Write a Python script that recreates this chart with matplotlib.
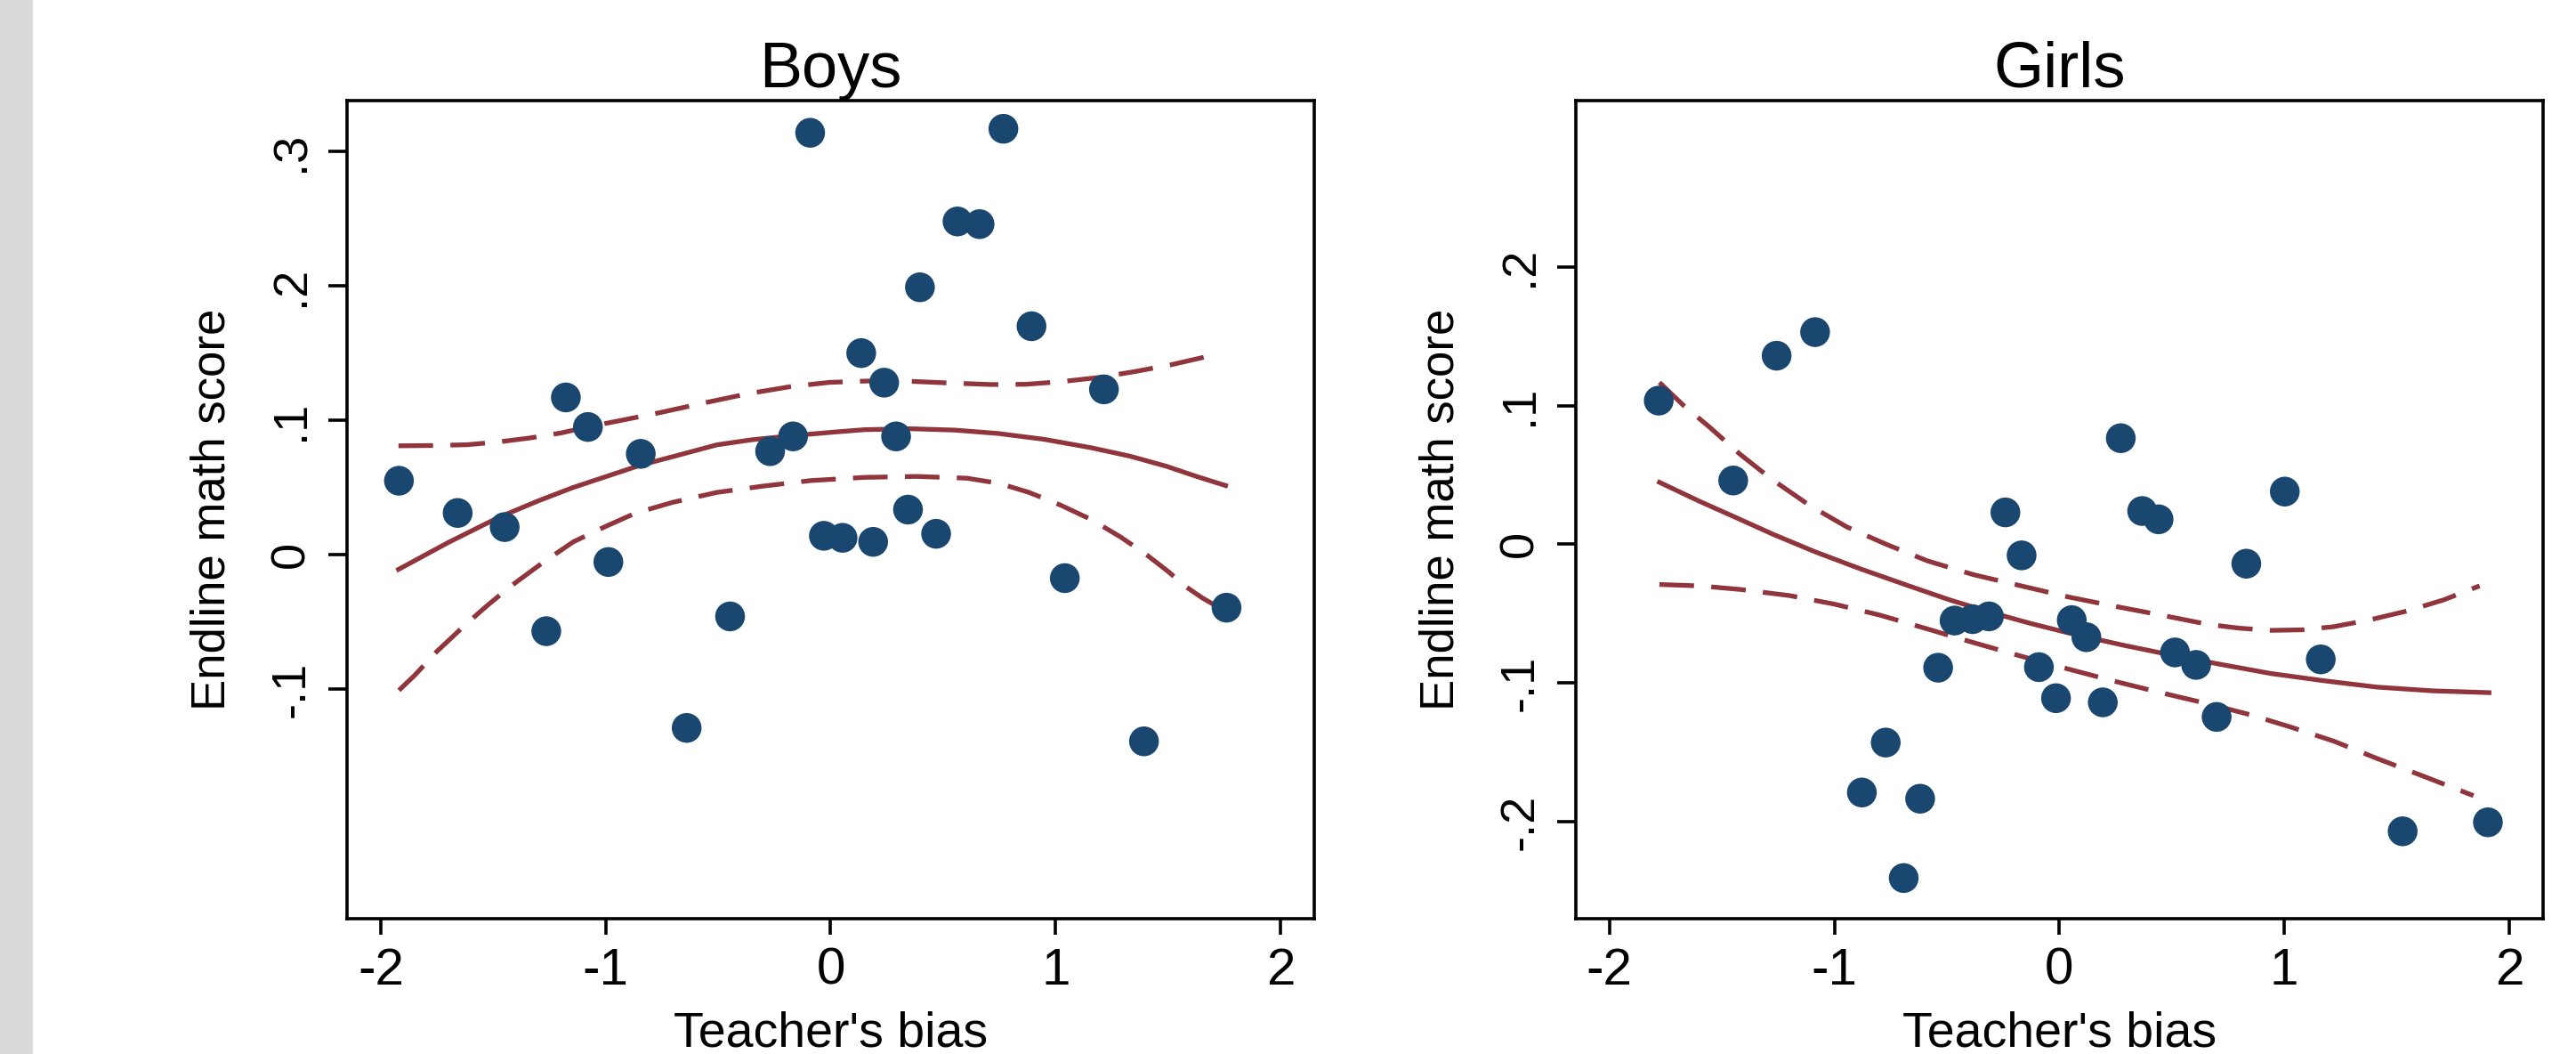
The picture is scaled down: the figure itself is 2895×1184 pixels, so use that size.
import numpy as np
import matplotlib.pyplot as plt
from matplotlib.patches import Rectangle

plt.rcParams['font.family'] = ['Liberation Sans', 'DejaVu Sans']

# binned scatter points
boys_bias = [-1.919, -1.658, -1.449, -1.264, -1.177, -1.079, -0.988, -0.844, -0.640, -0.447,
             -0.269, -0.167, -0.091, -0.030, 0.053, 0.136, 0.189, 0.238, 0.291, 0.344,
             0.397, 0.469, 0.564, 0.662, 0.768, 0.893, 1.041, 1.215, 1.393, 1.760]
boys_score = [0.055, 0.031, 0.0205, -0.057, 0.117, 0.095, -0.0055, 0.075, -0.129, -0.046,
              0.077, 0.088, 0.314, 0.014, 0.0125, 0.150, 0.0095, 0.128, 0.088, 0.0335,
              0.199, 0.0155, 0.248, 0.246, 0.317, 0.170, -0.0175, 0.123, -0.139, -0.0395]

girls_bias = [-1.781, -1.450, -1.257, -1.086, -0.878, -0.772, -0.692, -0.619, -0.539, -0.466,
              -0.386, -0.313, -0.240, -0.168, -0.091, -0.015, 0.055, 0.120, 0.193, 0.273,
              0.368, 0.441, 0.514, 0.608, 0.699, 0.831, 1.002, 1.162, 1.526, 1.905]
girls_score = [0.1036, 0.046, 0.136, 0.153, -0.179, -0.143, -0.2407, -0.1835, -0.089, -0.055,
               -0.054, -0.052, 0.023, -0.008, -0.0886, -0.111, -0.0547, -0.067, -0.114, 0.0765,
               0.024, 0.018, -0.078, -0.087, -0.1245, -0.014, 0.038, -0.083, -0.207, -0.2005]

# quadratic fit line and its 95% CI
boys_fit_x = [-1.921, -1.7, -1.477, -1.3, -1.144, -1.0, -0.847, -0.7, -0.506, -0.35, -0.173,
              0.0, 0.15, 0.354, 0.55, 0.743, 0.95, 1.160, 1.33, 1.492, 1.63, 1.756]
boys_fit_y = [-0.011, 0.009, 0.0276, 0.040, 0.050, 0.058, 0.0665, 0.073, 0.0817, 0.0855, 0.0885,
              0.091, 0.093, 0.0937, 0.0927, 0.0902, 0.0858, 0.0795, 0.0733, 0.0658, 0.058, 0.0514]
boys_hi_x = [-1.921, -1.77, -1.616, -1.48, -1.338, -1.2, -1.075, -0.92, -0.756, -0.56, -0.367,
             -0.18, -0.006, 0.16, 0.327, 0.52, 0.716, 0.87, 1.021, 1.19, 1.354, 1.51, 1.659]
boys_hi_y = [0.081, 0.0812, 0.0818, 0.0838, 0.0868, 0.0905, 0.0952, 0.1003, 0.1058, 0.1130, 0.1198,
             0.1250, 0.1282, 0.1292, 0.1292, 0.1278, 0.1266, 0.1268, 0.1287, 0.1318, 0.1363, 0.1412,
             0.1469]
boys_lo_x = [-1.919, -1.85, -1.75, -1.616, -1.52, -1.422, -1.28, -1.144, -1.0, -0.866, -0.7,
             -0.506, -0.3, -0.089, 0.15, 0.383, 0.605, 0.75, 0.882, 1.02, 1.160, 1.29, 1.409,
             1.50, 1.576, 1.65, 1.722]
boys_lo_y = [-0.101, -0.090, -0.072, -0.051, -0.037, -0.0235, -0.006, 0.0095, 0.021, 0.031, 0.039,
             0.0463, 0.051, 0.0551, 0.0575, 0.0582, 0.0569, 0.053, 0.0463, 0.037, 0.026, 0.013,
             -0.0007, -0.0125, -0.0235, -0.032, -0.039]

girls_fit_x = [-1.778, -1.6, -1.445, -1.27, -1.085, -0.88, -0.669, -0.49, -0.308, -0.13, 0.052,
               0.29, 0.523, 0.73, 0.940, 1.18, 1.411, 1.66, 1.910]
girls_fit_y = [0.0447, 0.031, 0.0198, 0.007, -0.0055, -0.018, -0.030, -0.040, -0.049, -0.057,
               -0.0644, -0.073, -0.0807, -0.087, -0.0932, -0.0985, -0.103, -0.1057, -0.107]
girls_hi_x = [-1.778, -1.67, -1.556, -1.42, -1.279, -1.11, -0.946, -0.77, -0.586, -0.38, -0.170,
              0.04, 0.246, 0.45, 0.662, 0.80, 0.940, 1.08, 1.217, 1.38, 1.549, 1.71, 1.868]
girls_hi_y = [0.1167, 0.100, 0.0846, 0.065, 0.0469, 0.028, 0.0126, 0.000, -0.012, -0.022, -0.030,
              -0.038, -0.0447, -0.051, -0.0578, -0.0605, -0.0621, -0.0617, -0.0595, -0.0545, -0.048,
              -0.040, -0.030]
girls_lo_x = [-1.778, -1.6, -1.417, -1.2, -1.002, -0.8, -0.586, -0.38, -0.170, 0.04, 0.246, 0.45,
              0.662, 0.85, 1.022, 1.22, 1.411, 1.63, 1.841]
girls_lo_y = [-0.029, -0.030, -0.0326, -0.037, -0.0431, -0.051, -0.0611, -0.071, -0.0807, -0.090,
              -0.0988, -0.107, -0.1151, -0.123, -0.1315, -0.142, -0.1544, -0.168, -0.1813]

x_ticks = [-2, -1, 0, 1, 2]
boys_yticks = [-0.1, 0, 0.1, 0.2, 0.3]
boys_ylabels = ['-.1', '0', '.1', '.2', '.3']
girls_yticks = [-0.2, -0.1, 0, 0.1, 0.2]
girls_ylabels = ['-.2', '-.1', '0', '.1', '.2']

NAVY = '#1a476f'
MAROON = '#90353b'


def panel(ax, x, y, fit, lo, hi, title, yticks, ylabels, ylim):
    lw = 1.9
    for bx, by in (lo, hi):
        ax.plot(bx, by, color=MAROON, lw=lw, dashes=(14 / lw, 7 / lw), zorder=2)
    ax.plot(fit[0], fit[1], color=MAROON, lw=lw, zorder=2)
    ax.scatter(x, y, s=145, color=NAVY, edgecolors='none', zorder=3)
    ax.set_xlim(-2.15, 2.15)
    ax.set_ylim(*ylim)
    ax.set_xticks(x_ticks)
    ax.set_xticklabels([str(t) for t in x_ticks])
    ax.set_yticks(yticks)
    ax.set_yticklabels(ylabels, rotation=90, va='center')
    ax.tick_params(axis='x', length=6.5, width=1.3, labelsize=21, pad=5)
    ax.tick_params(axis='y', length=7.5, width=1.3, labelsize=19.5, pad=6)
    for sp in ax.spines.values():
        sp.set_linewidth(1.3)
    ax.set_title(title, fontsize=26, pad=5)
    ax.set_xlabel("Teacher's bias", fontsize=20, labelpad=6.5)
    ax.set_ylabel('Endline math score', fontsize=19, labelpad=14)


fig = plt.figure(figsize=(14.475, 5.92), dpi=200)
fig.patches.append(Rectangle((0, 0), 37 / 2895, 1, transform=fig.transFigure,
                             facecolor='#dadada', edgecolor='none', zorder=-1))

ax1 = fig.add_axes([0.1347, 0.1284, 0.3755, 0.7762])
ax2 = fig.add_axes([0.6117, 0.1284, 0.3755, 0.7762])

panel(ax1, boys_bias, boys_score, (boys_fit_x, boys_fit_y), (boys_lo_x, boys_lo_y),
      (boys_hi_x, boys_hi_y), 'Boys', boys_yticks, boys_ylabels, (-0.271, 0.338))
panel(ax2, girls_bias, girls_score, (girls_fit_x, girls_fit_y), (girls_lo_x, girls_lo_y),
      (girls_hi_x, girls_hi_y), 'Girls', girls_yticks, girls_ylabels, (-0.270, 0.320))

fig.savefig('out.png', dpi=200)
